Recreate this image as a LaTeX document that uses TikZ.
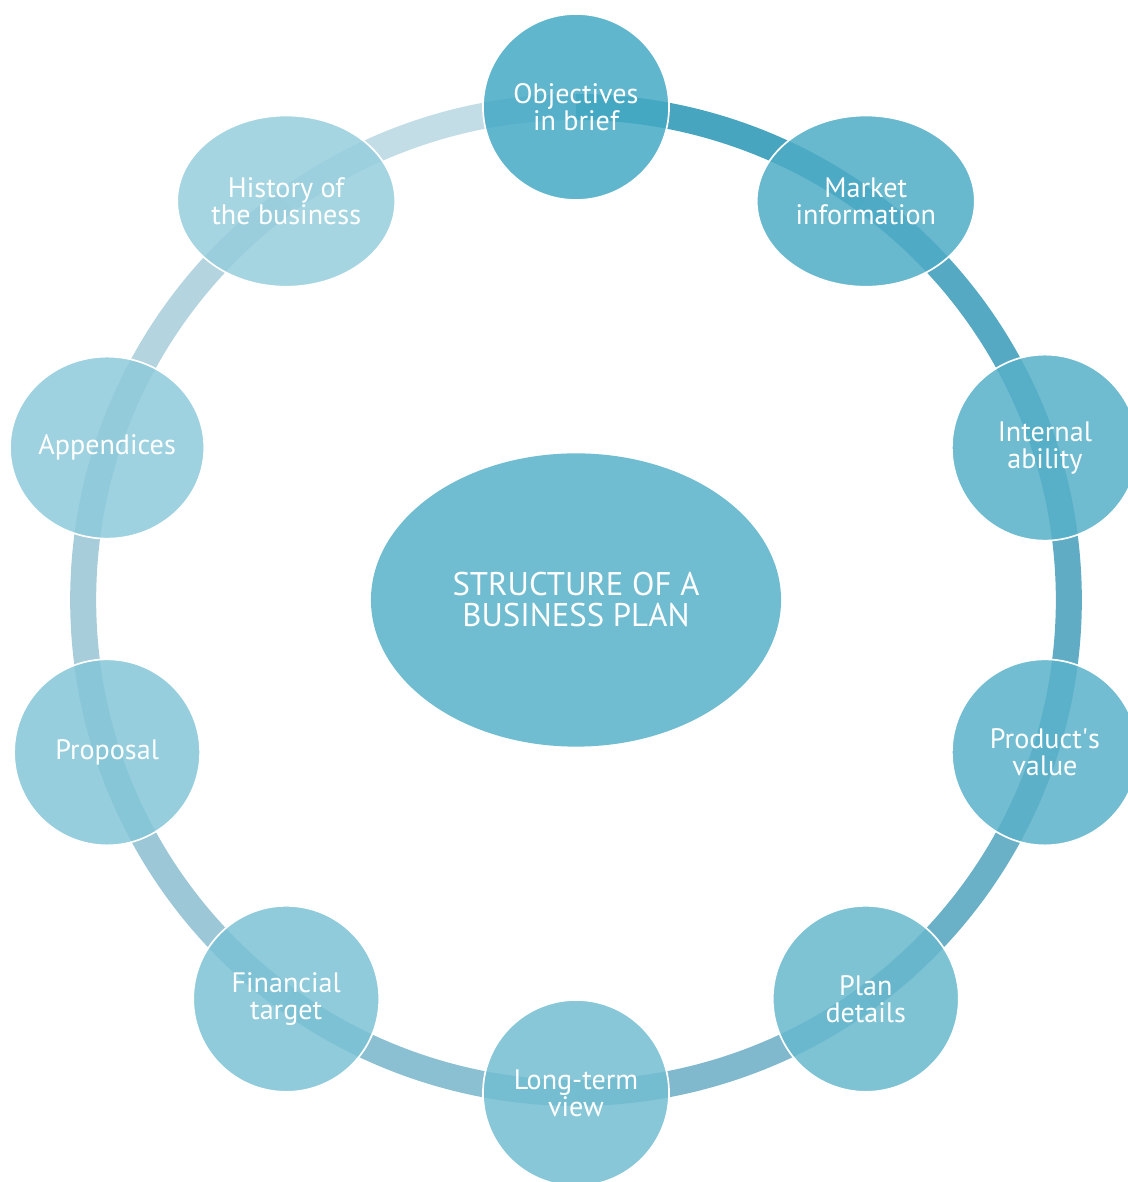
\documentclass[tikz,border=0pt]{standalone}
\usepackage{fontspec}
\setmainfont{PT Sans}
\usetikzlibrary{shapes.geometric,backgrounds,calc}

% node fills (seen through 0.85 opacity)
\definecolor{hubfill}{HTML}{70BCD1}
\definecolor{fillA}{HTML}{44A9C4}
\definecolor{fillB}{HTML}{4EACC6}
\definecolor{fillC}{HTML}{56B0C9}
\definecolor{fillD}{HTML}{5AB2CA}
\definecolor{fillE}{HTML}{67B8CD}
\definecolor{fillF}{HTML}{72BDD1}
\definecolor{fillG}{HTML}{7BC2D5}
\definecolor{fillH}{HTML}{84C6D8}
\definecolor{fillI}{HTML}{8ECADB}
\definecolor{fillJ}{HTML}{97CEDD}
% ring pieces
\definecolor{ringA}{HTML}{47A5BF}
\definecolor{ringB}{HTML}{56A9C2}
\definecolor{ringC}{HTML}{5FACC4}
\definecolor{ringD}{HTML}{6AB1C8}
\definecolor{ringE}{HTML}{80B9CD}
\definecolor{ringF}{HTML}{8BBFD2}
\definecolor{ringG}{HTML}{9BC7D6}
\definecolor{ringH}{HTML}{A7CDDB}
\definecolor{ringI}{HTML}{B4D4DF}
\definecolor{ringJ}{HTML}{C2DDE6}

\begin{document}
\begin{tikzpicture}[x=0.025cm,y=0.025cm,
    stage/.style={circle,draw=white,line width=1.2pt,fill opacity=0.85,text opacity=1,
        text=white,minimum size=4.65cm,inner sep=0pt,align=center,
        font=\fontsize{20}{19.2}\selectfont},
    oval/.style={stage,ellipse,minimum width=5.45cm,minimum height=4.28cm},
    ring/.style={line width=0.65cm},
    arcbend/.style={bend left=18,looseness=0.87}]
    \useasboundingbox (0,0) rectangle (1128,1182);
    \clip (0,0) rectangle (1128,1182);

    \node[ellipse,fill=hubfill,minimum width=10.25cm,minimum height=7.33cm,inner sep=0pt,
        text=white,align=center,font=\fontsize{23.3}{22}\selectfont] (hub) at (576,582)
        {STRUCTURE OF A\\BUSINESS PLAN};

    \node[stage,fill=fillA] (obj) at ($(hub)+(90:493)$) {Objectives\\in brief};
    \node[oval,fill=fillB] (mkt) at ($(hub)+(54:493)$) {Market\\information};
    \node[stage,fill=fillC] (abl) at ($(hub)+(18:493)$) {Internal\\ability};
    \node[stage,fill=fillD] (val) at ($(hub)+(-18:493)$) {Product\textquotesingle s\\value};
    \node[stage,fill=fillE] (det) at ($(hub)+(-54:493)$) {Plan\\details};
    \node[stage,fill=fillF] (lng) at ($(hub)+(-90:493)$) {Long-term\\view};
    \node[stage,fill=fillG] (fin) at ($(hub)+(-126:493)$) {Financial\\target};
    \node[stage,fill=fillH] (prp) at ($(hub)+(-162:493)$) {Proposal};
    \node[oval,fill=fillI,minimum width=4.85cm,minimum height=4.55cm] (app) at ($(hub)+(162:493)$) {Appendices};
    \node[oval,fill=fillJ] (hst) at ($(hub)+(126:493)$) {History of\\the business};

    \begin{scope}[on background layer]
        \draw[ring,ringA] (obj.center) to[arcbend] (mkt.center);
        \draw[ring,ringB] (mkt.center) to[arcbend] (abl.center);
        \draw[ring,ringC] (abl.center) to[arcbend] (val.center);
        \draw[ring,ringD] (val.center) to[arcbend] (det.center);
        \draw[ring,ringE] (det.center) to[arcbend] (lng.center);
        \draw[ring,ringF] (lng.center) to[arcbend] (fin.center);
        \draw[ring,ringG] (fin.center) to[arcbend] (prp.center);
        \draw[ring,ringH] (prp.center) to[arcbend] (app.center);
        \draw[ring,ringI] (app.center) to[arcbend] (hst.center);
        \draw[ring,ringJ] (hst.center) to[arcbend] (obj.center);
    \end{scope}
\end{tikzpicture}
\end{document}
